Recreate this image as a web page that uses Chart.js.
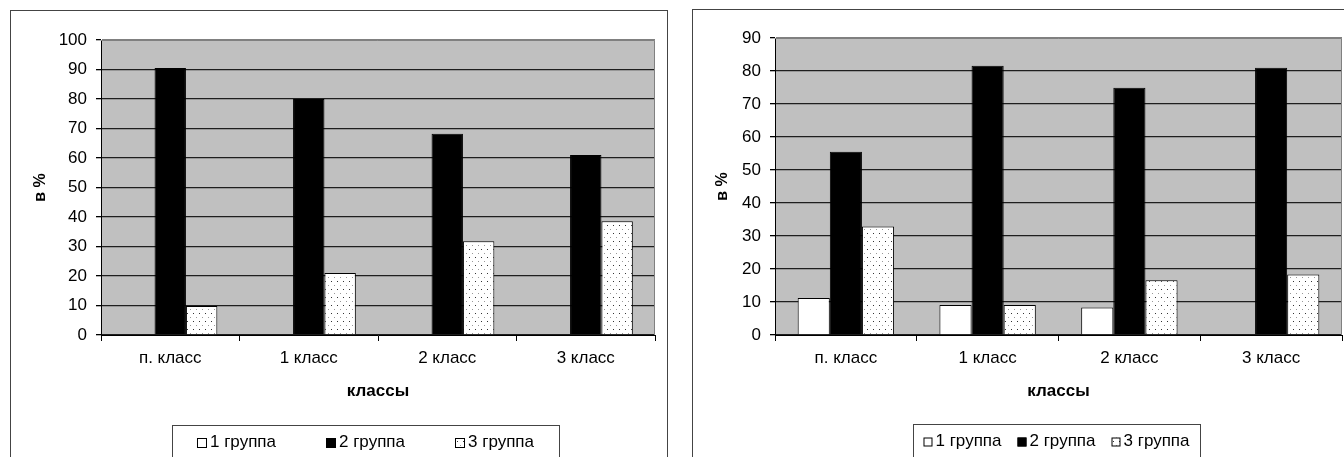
<!DOCTYPE html>
<html lang="ru">
<head>
<meta charset="utf-8">
<title>Распределение по группам</title>
<script src="https://cdn.jsdelivr.net/npm/chart.js@4.4.1/dist/chart.umd.min.js"></script>
<style>
  html, body { margin: 0; padding: 0; background: #fff; overflow: hidden; }
  body { width: 1344px; height: 457px; position: relative; }
  .frame { position: absolute; border: 1px solid #444; box-sizing: border-box; }
  #frameLeft { left: 10px; top: 10px; width: 658px; height: 470px; }
  #frameRight { left: 692px; top: 9px; width: 680px; height: 470px; }
  canvas { position: absolute; top: 0; }
  #chartLeft { left: 0; }
  #chartRight { left: 680px; }
</style>
</head>
<body>
<div class="frame" id="frameLeft"></div>
<div class="frame" id="frameRight"></div>
<canvas id="chartLeft" width="680" height="457"></canvas>
<canvas id="chartRight" width="664" height="457"></canvas>
<script>
// категории и группы
const classes = ["п. класс", "1 класс", "2 класс", "3 класс"];
const groupNames = ["1 группа", "2 группа", "3 группа"];

// левая диаграмма, в %
const leftGroup1 = [null, null, null, null];
const leftGroup2 = [90.5, 80, 68.2, 61];
const leftGroup3 = [9.8, 21, 31.8, 38.6];
const leftYMax = 100;

// правая диаграмма, в %
const rightGroup1 = [11.2, 9.1, 8.3, null];
const rightGroup2 = [55.5, 81.6, 74.9, 81];
const rightGroup3 = [32.9, 9.1, 16.6, 18.3];
const rightYMax = 90;

const yStep = 10;

const FONT = "'Liberation Sans', Arial, sans-serif";
Chart.defaults.font.family = FONT;
Chart.defaults.color = "#000";
Chart.defaults.animation = false;

// точечная штриховка для третьей группы
function dotPattern() {
    const c = document.createElement("canvas");
    c.width = 6;
    c.height = 8;
    const g = c.getContext("2d");
    g.fillStyle = "#fff";
    g.fillRect(0, 0, 6, 8);
    g.fillStyle = "#333";
    g.fillRect(1, 1, 1, 1);
    g.fillStyle = "#999";
    g.fillRect(4, 5, 1, 1);
    return g.createPattern(c, "repeat");
}

// серый фон области построения и её рамка
const plotArea = {
    id: "plotArea",
    beforeDraw(chart) {
        const { ctx, chartArea: a } = chart;
        ctx.save();
        ctx.fillStyle = "#c0c0c0";
        ctx.fillRect(a.left, a.top, a.right - a.left, a.bottom - a.top);
        ctx.restore();
    },
    afterDatasetsDraw(chart) {
        const { ctx, chartArea: a } = chart;
        ctx.save();
        ctx.strokeStyle = "#808080";
        ctx.lineWidth = 1;
        ctx.beginPath();
        ctx.moveTo(a.left, a.top + 0.5);
        ctx.lineTo(a.right - 0.5, a.top + 0.5);
        ctx.lineTo(a.right - 0.5, a.bottom);
        ctx.stroke();
        ctx.restore();
    }
};

// легенда в рамке под осью
const boxLegend = {
    id: "boxLegend",
    afterDraw(chart, args, opts) {
        const ctx = chart.ctx;
        ctx.save();
        ctx.strokeStyle = "#444";
        ctx.lineWidth = 1;
        ctx.strokeRect(opts.left + 0.5, opts.top + 0.5, opts.width, 60);
        ctx.font = "17px " + FONT;
        ctx.textBaseline = "middle";
        const items = chart.data.datasets.map(ds => ({
            ds, w: opts.swatch + 3 + ctx.measureText(ds.label).width
        }));
        const total = items.reduce((s, it) => s + it.w, 0) + opts.gap * (items.length - 1);
        let x = opts.left + (opts.width - total) / 2;
        const y = opts.top + 17;
        items.forEach(it => {
            ctx.fillStyle = it.ds.backgroundColor;
            ctx.fillRect(x, y - opts.swatch / 2 + 1, opts.swatch, opts.swatch);
            ctx.strokeStyle = "#000";
            ctx.strokeRect(x + 0.5, y - opts.swatch / 2 + 1.5, opts.swatch - 1, opts.swatch - 1);
            ctx.fillStyle = "#000";
            ctx.fillText(it.ds.label, x + opts.swatch + 3, y);
            x += it.w + opts.gap;
        });
        ctx.restore();
    }
};

function makeChart(id, groups, yMax, cfg) {
    const fills = ["#fff", "#000", dotPattern()];
    return new Chart(document.getElementById(id), {
        type: "bar",
        data: {
            labels: classes,
            datasets: groups.map((values, i) => ({
                label: groupNames[i],
                data: values,
                backgroundColor: fills[i],
                borderColor: "#000",
                borderWidth: 1,
                categoryPercentage: 0.68,
                barPercentage: 1
            }))
        },
        options: {
            responsive: false,
            layout: { padding: cfg.padding },
            plugins: {
                legend: { display: false },
                tooltip: { enabled: false },
                boxLegend: cfg.legend
            },
            scales: {
                x: {
                    ticks: { font: { size: 17 }, padding: 7 },
                    grid: { drawOnChartArea: false, drawTicks: true, tickLength: 6, color: "#000" },
                    border: { color: "#000", width: 1 },
                    title: {
                        display: true, text: "классы",
                        font: { size: 17, weight: "bold" },
                        padding: { top: 0, bottom: 3 }
                    },
                    afterFit(scale) { scale.height = 70; }
                },
                y: {
                    min: 0,
                    max: yMax,
                    ticks: { stepSize: yStep, padding: 9, font: { size: 17 } },
                    grid: {
                        color: c => (c.tick && c.tick.value === yMax) ? "#808080" : "#1e1e1e",
                        lineWidth: 1.3,
                        tickLength: 5,
                        tickColor: "#000"
                    },
                    border: { color: "#000", width: 1 },
                    title: {
                        display: true, text: "в %",
                        font: { size: 16, weight: "bold" },
                        padding: { top: cfg.titlePad, bottom: 0 }
                    },
                    afterFit(scale) { scale.width = cfg.yWidth; }
                }
            }
        },
        plugins: [plotArea, boxLegend]
    });
}

makeChart("chartLeft", [leftGroup1, leftGroup2, leftGroup3], leftYMax, {
    padding: { left: 20, top: 40, right: 25, bottom: 52 },
    yWidth: 81,
    titlePad: 11.4,
    legend: { left: 172, top: 425, width: 387, gap: 50, swatch: 10 }
});

makeChart("chartRight", [rightGroup1, rightGroup2, rightGroup3], rightYMax, {
    padding: { left: 20, top: 38, right: 2, bottom: 52 },
    yWidth: 75,
    titlePad: 13.4,
    legend: { left: 233, top: 424, width: 287, gap: 16, swatch: 9 }
});
</script>
</body>
</html>
